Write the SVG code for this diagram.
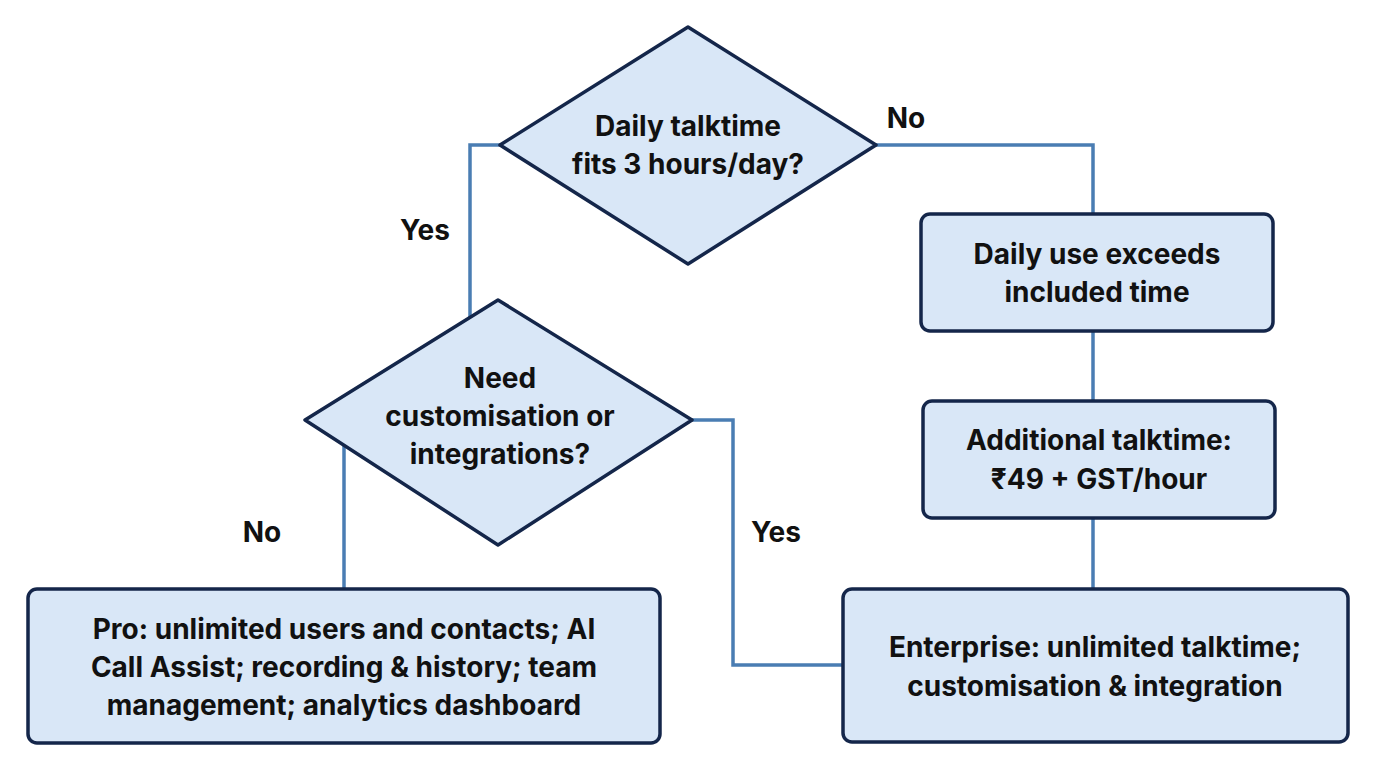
<svg xmlns="http://www.w3.org/2000/svg" width="1376" height="768" viewBox="0 0 1376 768">
<style>
.n{fill:#d9e7f7;stroke:#14264a;stroke-width:3.5;stroke-linejoin:round}
.c{fill:none;stroke:#4a7db3;stroke-width:3.5}
text{font-family:"Inter","Liberation Sans",sans-serif;font-weight:700;font-size:28px;fill:#111;text-anchor:middle}
</style>
<rect width="1376" height="768" fill="#fff"/>
<g id="connectors">
<polyline class="c" points="500,145 470,145 470,317"/>
<polyline class="c" points="876,145 1093,145 1093,214"/>
<line class="c" x1="1093" y1="331" x2="1093" y2="401"/>
<line class="c" x1="1093" y1="518" x2="1093" y2="589"/>
<polyline class="c" points="344,445 344,589"/>
<polyline class="c" points="692,420 733,420 733,665 843,665"/>
<text x="906" y="128">No</text>
<text x="425" y="240">Yes</text>
<text x="262" y="542">No</text>
<text x="776" y="542">Yes</text>
</g>
<g id="d1"><polygon class="n" points="688,27 876,145 688,264 500,145"/>
<text x="688" y="136">Daily talktime</text><text x="688" y="174">fits 3 hours/day?</text></g>
<g id="d2"><polygon class="n" points="498,300 692,420 498,545 305,420"/>
<text x="500" y="388">Need</text><text x="500" y="426">customisation or</text><text x="500" y="464">integrations?</text></g>
<g id="a"><rect class="n" x="921" y="214" width="352" height="117" rx="9"/>
<text x="1097" y="264">Daily use exceeds</text><text x="1097" y="302">included time</text></g>
<g id="b"><rect class="n" x="923" y="401" width="352" height="117" rx="9"/>
<text x="1099" y="450">Additional talktime:</text><text x="1099" y="489">₹49 + GST/hour</text></g>
<g id="pro"><rect class="n" x="28" y="589" width="632" height="154" rx="9"/>
<text x="344" y="639">Pro: unlimited users and contacts; AI</text><text x="344" y="677">Call Assist; recording &amp; history; team</text><text x="344" y="715">management; analytics dashboard</text></g>
<g id="ent"><rect class="n" x="843" y="589" width="505" height="153" rx="9"/>
<text x="1095" y="657">Enterprise: unlimited talktime;</text><text x="1095" y="696">customisation &amp; integration</text></g>
</svg>
